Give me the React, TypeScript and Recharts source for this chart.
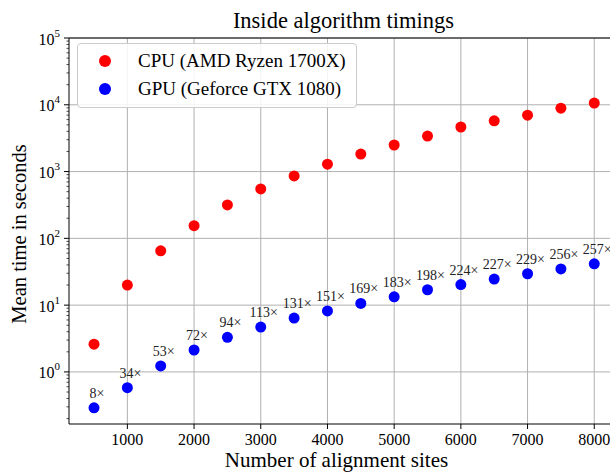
import React from 'react';
import {
  ScatterChart,
  Scatter,
  XAxis,
  YAxis,
  CartesianGrid,
  ReferenceLine,
} from 'recharts';

// alignment sites on the x axis
const sites = [500, 1000, 1500, 2000, 2500, 3000, 3500, 4000, 4500, 5000, 5500, 6000, 6500, 7000, 7500, 8000];
// mean timings (seconds)
const cpuTimes = [2.6, 20, 65, 155, 316, 550, 860, 1290, 1830, 2500, 3400, 4650, 5750, 7000, 8900, 10600];
const gpuTimes = [0.29, 0.58, 1.23, 2.13, 3.3, 4.7, 6.4, 8.2, 10.6, 13.3, 17, 20.3, 24.6, 29.5, 34.8, 41.5];
const speedups = [8, 34, 53, 72, 94, 113, 131, 151, 169, 183, 198, 224, 227, 229, 256, 257];

const xTicks = [1000, 2000, 3000, 4000, 5000, 6000, 7000, 8000];
const yMajor = [1, 10, 100, 1000, 10000, 100000];
const yTicks = [0.2, 0.3, 0.4, 0.5, 0.6, 0.7, 0.8, 0.9,
  1, 2, 3, 4, 5, 6, 7, 8, 9,
  10, 20, 30, 40, 50, 60, 70, 80, 90,
  100, 200, 300, 400, 500, 600, 700, 800, 900,
  1000, 2000, 3000, 4000, 5000, 6000, 7000, 8000, 9000,
  10000, 20000, 30000, 40000, 50000, 60000, 70000, 80000, 90000,
  100000];

const cpuData = sites.map((s, i) => ({ site: s, time: cpuTimes[i] }));
const gpuData = sites.map((s, i) => ({ site: s, time: gpuTimes[i], speedup: speedups[i] }));

const FONT = '"Liberation Serif", "DejaVu Serif", serif';

const YTick = (props: any) => {
  const { x, y, payload } = props;
  const v = payload.value;
  const lg = Math.log10(v);
  const exp = Math.round(lg);
  const major = Math.abs(lg - exp) < 1e-6;
  return (
    <g>
      <line x1={x} x2={x - (major ? 5 : 2.5)} y1={y} y2={y} stroke="#000" strokeWidth={major ? 1 : 0.7} />
      {major && (
        <text x={x - 9} y={y + 6.5} textAnchor="end" fontFamily={FONT} fontSize={16} fill="#000">
          10<tspan dy={-8} fontSize={11}>{exp}</tspan>
        </text>
      )}
    </g>
  );
};

const XTick = (props: any) => {
  const { x, y, payload } = props;
  return (
    <g>
      <line x1={x} x2={x} y1={y} y2={y + 5} stroke="#000" strokeWidth={1} />
      <text x={x} y={y + 21} textAnchor="middle" fontFamily={FONT} fontSize={16} fill="#000">
        {payload.value}
      </text>
    </g>
  );
};

const Dot = (color: string) => (props: any) => {
  const { cx, cy } = props;
  return <circle cx={cx} cy={cy} r={5.5} fill={color} />;
};

const GpuDot = (props: any) => {
  const { cx, cy, payload } = props;
  return (
    <g>
      <circle cx={cx} cy={cy} r={5.5} fill="#0000ff" />
      <text x={cx + 3} y={cy - 10} textAnchor="middle" fontFamily={FONT} fontSize={14} fill="#222">
        {payload.speedup}×
      </text>
    </g>
  );
};

export default function App() {
  return (
    <div style={{ position: 'absolute', left: 0, top: 0, width: 610, height: 473, background: '#fff', overflow: 'hidden' }}>
      <ScatterChart width={610} height={473} margin={{ top: 38, right: 0, bottom: 0, left: 0 }}>
        <CartesianGrid
          stroke="#b0b0b0"
          strokeWidth={1}
          horizontalValues={yMajor}
          verticalValues={xTicks}
        />
        <XAxis
          type="number"
          dataKey="site"
          domain={[125, 8236]}
          allowDataOverflow
          ticks={xTicks}
          interval={0}
          height={49}
          tickSize={0}
          tickMargin={0}
          tickLine={false}
          axisLine={{ stroke: '#000', strokeWidth: 1 }}
          tick={<XTick />}
        />
        <YAxis
          type="number"
          dataKey="time"
          scale="log"
          domain={[0.166, 100000]}
          allowDataOverflow
          ticks={yTicks}
          interval={0}
          width={69}
          tickSize={0}
          tickMargin={0}
          tickLine={false}
          axisLine={{ stroke: '#000', strokeWidth: 1 }}
          tick={<YTick />}
        />
        <ReferenceLine y={100000} stroke="#000" strokeWidth={1} />
        <Scatter name="CPU (AMD Ryzen 1700X)" data={cpuData} shape={Dot('#ff0000')} isAnimationActive={false} />
        <Scatter name="GPU (Geforce GTX 1080)" data={gpuData} shape={GpuDot} isAnimationActive={false} />
      </ScatterChart>

      <div style={{ position: 'absolute', left: 0, top: 10, width: 687, textAlign: 'center', fontFamily: FONT, fontSize: 22.5, lineHeight: '22.5px', color: '#000', whiteSpace: 'nowrap' }}>
        Inside algorithm timings
      </div>
      <div style={{ position: 'absolute', left: 0, top: 450, width: 673, textAlign: 'center', fontFamily: FONT, fontSize: 21, lineHeight: '21px', color: '#000', whiteSpace: 'nowrap' }}>
        Number of alignment sites
      </div>
      <div style={{ position: 'absolute', left: 19, top: 234, width: 0, height: 0 }}>
        <div style={{ position: 'absolute', left: -150, top: -12, width: 300, textAlign: 'center', transform: 'rotate(-90deg)', fontFamily: FONT, fontSize: 20.5, color: '#000', lineHeight: '24px', whiteSpace: 'nowrap' }}>
          Mean time in seconds
        </div>
      </div>

      <div
        style={{
          position: 'absolute', left: 77, top: 43, width: 278, height: 63,
          border: '1px solid #cccccc', borderRadius: 4, background: 'rgba(255,255,255,0.85)',
          fontFamily: FONT, fontSize: 19, color: '#000',
        }}
      >
        {[
          { label: 'CPU (AMD Ryzen 1700X)', color: '#ff0000', top: 17 },
          { label: 'GPU (Geforce GTX 1080)', color: '#0000ff', top: 45 },
        ].map((it) => (
          <div key={it.label} style={{ position: 'absolute', left: 0, top: it.top - 12, height: 24, lineHeight: '24px', whiteSpace: 'nowrap' }}>
            <span style={{ position: 'absolute', left: 20.5, top: 6, width: 12, height: 12, borderRadius: 6, background: it.color }} />
            <span style={{ position: 'absolute', left: 60 }}>{it.label}</span>
          </div>
        ))}
      </div>
    </div>
  );
}
